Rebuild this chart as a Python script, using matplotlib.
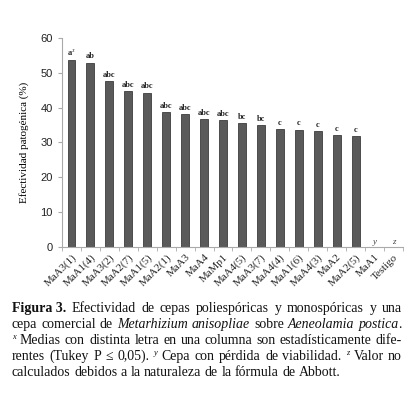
import matplotlib
matplotlib.use("Agg")
import matplotlib.pyplot as plt
import numpy as np

# Datos
cepas = ["MaA3(1)", "MaA1(4)", "MaA3(2)", "MaA2(7)", "MaA1(5)", "MaA2(1)", "MaA3", "MaA4",
         "MaMp1", "MaA4(5)", "MaA3(7)", "MaA4(4)", "MaA1(6)", "MaA4(3)", "MaA2", "MaA2(5)",
         "MaA1", "Testigo"]
efectividad = [53.7, 52.9, 47.5, 44.8, 44.3, 38.6, 38.1, 36.6, 36.4, 35.6, 35.1, 33.9, 33.7,
               33.2, 32.1, 31.9, 0, 0]
letras = [r"a$^{x}$", "ab", "abc", "abc", "abc", "abc", "abc", "abc", "abc", "bc", "bc",
          "c", "c", "c", "c", "c", "y", "z"]

plt.rcParams["mathtext.fontset"] = "stix"
serif = ["Liberation Serif", "DejaVu Serif"]

fig = plt.figure(figsize=(4.10, 3.94), dpi=100)
ax = fig.add_axes([0.151, 0.373, 0.832, 0.531])

x = np.arange(len(cepas))
ax.bar(x, efectividad, width=0.41, color="#5a5a5a", edgecolor="#3c3c3c", linewidth=0.6)

for i, (v, t) in enumerate(zip(efectividad, letras)):
    if t in ("y", "z"):
        ax.text(i, v + 0.3, t, ha="center", va="bottom", fontsize=6.5,
                style="italic", family=serif, color="#444444")
    else:
        ax.text(i, v + 0.6, t, ha="center", va="bottom", fontsize=6,
                weight="bold", family=serif, color="#222222")

ax.set_xlim(-0.5, len(cepas) - 0.5)
ax.set_ylim(0, 60)
ax.set_yticks(range(0, 61, 10))
ax.set_xticks(x)
ax.set_xticklabels(cepas, rotation=45, ha="right", rotation_mode="anchor",
                   fontsize=7.8, family=serif, color="#222222")
ax.set_xticks(np.arange(-0.5, len(cepas), 1), minor=True)
ax.tick_params(axis="x", which="major", length=0, pad=4)
ax.tick_params(axis="x", which="minor", length=3, color="#aaaaaa", direction="out")
ax.tick_params(axis="y", length=3, color="#aaaaaa", labelsize=8, labelcolor="#222222")
for lab in ax.get_yticklabels():
    lab.set_family(["Liberation Sans", "DejaVu Sans"])
ax.set_ylabel("Efectividad patogénica (%)", fontsize=8, family=serif, labelpad=8)
for s in ["top", "right"]:
    ax.spines[s].set_visible(False)
for s in ["left", "bottom"]:
    ax.spines[s].set_color("#aaaaaa")
    ax.spines[s].set_linewidth(0.8)

# Pie de figura justificado
lineas = [
    [[("Figura 3.", "b")], [("Efectividad", "n")], [("de", "n")], [("cepas", "n")],
     [("poliespóricas", "n")], [("y", "n")], [("monospóricas", "n")], [("y", "n")], [("una", "n")]],
    [[("cepa", "n")], [("comercial", "n")], [("de", "n")], [("Metarhizium", "i")],
     [("anisopliae", "i")], [("sobre", "n")], [("Aeneolamia", "i")], [("postica", "i"), (".", "n")]],
    [[("x", "s")], [("Medias", "n")], [("con", "n")], [("distinta", "n")], [("letra", "n")],
     [("en", "n")], [("una", "n")], [("columna", "n")], [("son", "n")],
     [("estadísticamente", "n")], [("dife-", "n")]],
    [[("rentes", "n")], [("(Tukey", "n")], [("P", "n")], [("≤", "n")], [("0,05).", "n")],
     [("y", "s")], [("Cepa", "n")], [("con", "n")], [("pérdida", "n")], [("de", "n")],
     [("viabilidad.", "n")], [("z", "s")], [("Valor", "n")], [("no", "n")]],
    [[("calculados", "n")], [("debidos", "n")], [("a", "n")], [("la", "n")],
     [("naturaleza", "n")], [("de", "n")], [("la", "n")], [("fórmula", "n")],
     [("de", "n")], [("Abbott.", "n")]],
]

W, H = 410, 394
x0, x1 = 12, 402
y_base = [312, 328, 344, 360, 376]
fs = 10
renderer = fig.canvas.get_renderer()


def estilo(st):
    d = dict(family=serif, fontsize=fs, color="#111111")
    if st == "b":
        d["weight"] = "bold"
    elif st == "i":
        d["style"] = "italic"
    elif st == "s":
        d["style"] = "italic"
        d["fontsize"] = fs * 0.6
    return d


for n, (linea, yb) in enumerate(zip(lineas, y_base)):
    objs = []
    anchos = []
    for palabra in linea:
        segs = []
        ancho = 0
        for txt, st in palabra:
            dy = 5 if st == "s" else 0
            t = fig.text(0, 1 - (yb - dy) / H, txt, va="baseline", ha="left", **estilo(st))
            w = t.get_window_extent(renderer).width
            segs.append((t, ancho))
            ancho += w
        objs.append(segs)
        anchos.append(ancho)
    espacio_nat = fs * 0.25 * 100 / 72
    if n < len(lineas) - 1:
        esp = (x1 - x0 - sum(anchos)) / (len(linea) - 1)
    else:
        esp = espacio_nat
    pos = x0
    for segs, a in zip(objs, anchos):
        for t, off in segs:
            t.set_x((pos + off) / W)
        pos += a + esp

fig.savefig("out.png", dpi=100)
